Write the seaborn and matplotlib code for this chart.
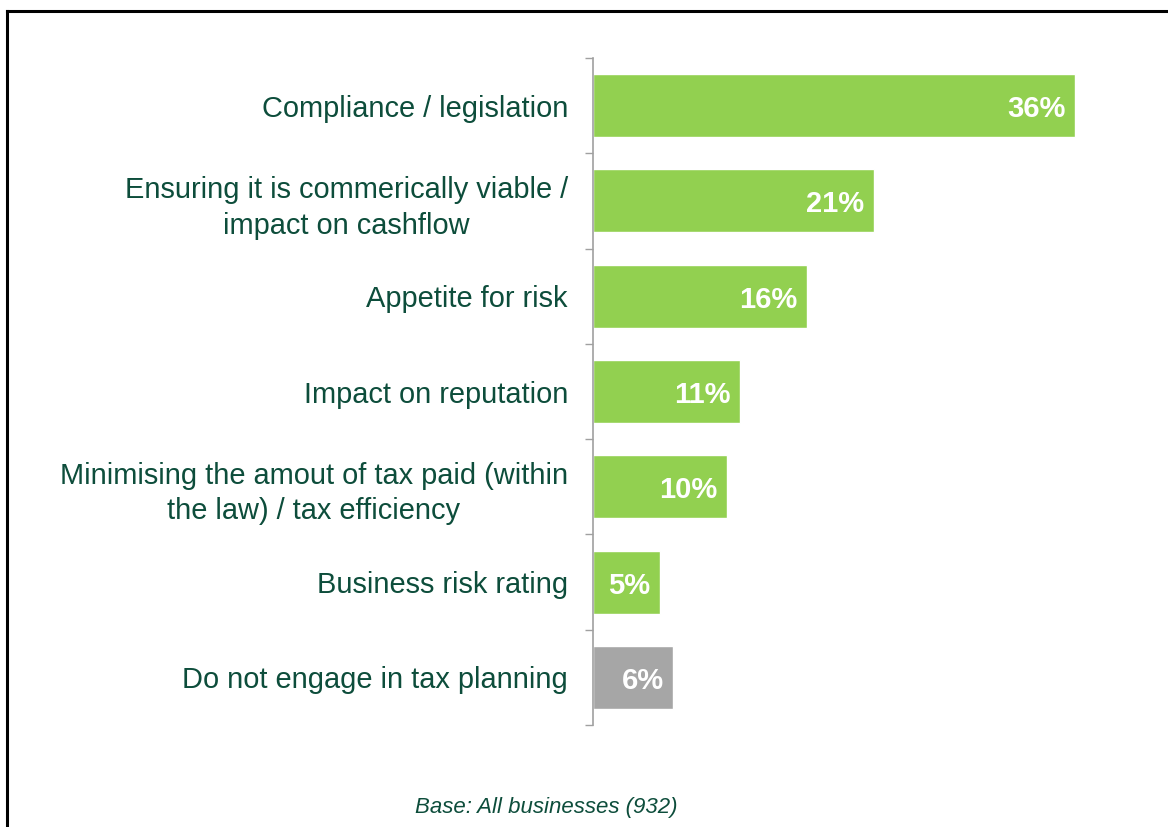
import matplotlib
matplotlib.use("Agg")
import matplotlib.pyplot as plt
from matplotlib.lines import Line2D
from matplotlib.ticker import FixedLocator
import seaborn as sns
import pandas as pd

# Chart data
categories = [
    "Compliance / legislation",
    "Ensuring it is commerically viable /\nimpact on cashflow",
    "Appetite for risk",
    "Impact on reputation",
    "Minimising the amout of tax paid (within\nthe law) / tax efficiency",
    "Business risk rating",
    "Do not engage in tax planning",
]
values = [36, 21, 16, 11, 10, 5, 6]
groups = ["factor", "factor", "factor", "factor", "factor", "factor", "none"]
value_labels = ["36%", "21%", "16%", "11%", "10%", "5%", "6%"]
footnote = "Base: All businesses (932)"

GREEN = "#92D050"
GREY = "#A6A6A6"
TEXT = "#0D4D3B"
AXIS = "#A0A0A0"

sns.set_style("white")
plt.rcParams["font.family"] = ["Liberation Sans", "DejaVu Sans"]

df = pd.DataFrame({"category": categories, "value": values, "group": groups})

fig = plt.figure(figsize=(11.68, 8.27), dpi=100)
ax = fig.add_axes([0.5077, 0.1233, 0.4586, 0.8066])

sns.barplot(
    data=df, x="value", y="category", hue="group", orient="h",
    palette={"factor": GREEN, "none": GREY}, width=0.66,
    dodge=False, legend=False, ax=ax, saturation=1,
)

ax.set_xlim(0, 40)
ax.set_ylim(len(categories) - 0.5, -0.5)
ax.set_xlabel("")
ax.set_ylabel("")
ax.set_xticks([])

for side in ("top", "right", "bottom"):
    ax.spines[side].set_visible(False)
ax.spines["left"].set_color(AXIS)
ax.spines["left"].set_linewidth(1.2)

# Category labels on major ticks (hidden), boundary ticks as minor ticks
ax.tick_params(axis="y", which="major", length=0, pad=18, labelsize=20.9,
               labelcolor=TEXT)
for lbl in ax.get_yticklabels():
    lbl.set_multialignment("center")
    lbl.set_linespacing(1.35)
ax.yaxis.set_minor_locator(FixedLocator([i - 0.5 for i in range(len(categories) + 1)]))
ax.tick_params(axis="y", which="minor", length=5.5, width=1.0, color=AXIS,
               direction="out", left=True)

# Value labels inside bar ends
for i, (v, txt) in enumerate(zip(values, value_labels)):
    ax.annotate(txt, xy=(v, i), xytext=(-7, -2.5), textcoords="offset points",
                ha="right", va="center", color="white", fontsize=21,
                fontweight="bold")

fig.text(0.468, 0.024, footnote, ha="center", va="center", fontsize=16,
         style="italic", color=TEXT)

# Outer frame (left and top edges)
fig.add_artist(Line2D([0.006, 0.006], [0.0, 0.9867], transform=fig.transFigure,
                      color="black", linewidth=2.2, solid_capstyle="projecting"))
fig.add_artist(Line2D([0.006, 1.0], [0.9867, 0.9867], transform=fig.transFigure,
                      color="black", linewidth=2.2, solid_capstyle="projecting"))

fig.savefig("out.png", dpi=100, facecolor="white")
